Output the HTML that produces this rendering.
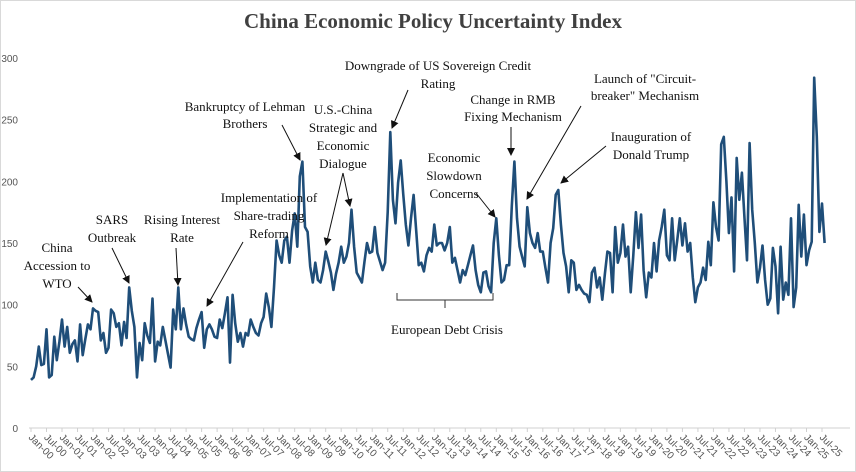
<!DOCTYPE html>
<html><head><meta charset="utf-8"><style>
html,body{margin:0;padding:0;background:#fff}
svg{display:block}
.ann{font-family:"Liberation Serif",serif;font-size:13px;fill:#111}
.tick{font-family:"Liberation Sans",sans-serif;font-size:10px;fill:#555}
</style></head><body>
<svg id="chart" width="856" height="472" viewBox="0 0 856 472" xmlns="http://www.w3.org/2000/svg">
<defs><marker id="ah" markerWidth="8" markerHeight="8" refX="7" refY="4" orient="auto" markerUnits="userSpaceOnUse"><path d="M0,0 L8,4 L0,8 z" fill="#111"/></marker></defs>
<rect x="0.5" y="0.5" width="855" height="471" fill="#fff" stroke="#d9d9d9"/>
<text x="433" y="28" text-anchor="middle" style="font-family:'Liberation Serif',serif;font-weight:bold;font-size:21px;fill:#404040">China Economic Policy Uncertainty Index</text>
<g id="yaxis"></g>
<g id="xaxis"></g>
<path id="line" fill="none" stroke="#1f4e79" stroke-width="2.6" stroke-linejoin="round"/>
<g>
<g><text class="ann" x="57" text-anchor="middle"><tspan x="57" y="252">China</tspan><tspan x="57" y="270">Accession to</tspan><tspan x="57" y="288">WTO</tspan></text><line x1="78" y1="287" x2="92" y2="302" stroke="#111" marker-end="url(#ah)"/></g>
<g><text class="ann" text-anchor="middle"><tspan x="112" y="224">SARS</tspan><tspan x="112" y="242">Outbreak</tspan></text><line x1="112" y1="248" x2="129" y2="283" stroke="#111" marker-end="url(#ah)"/></g>
<g><text class="ann" text-anchor="middle"><tspan x="182" y="224">Rising Interest</tspan><tspan x="182" y="242">Rate</tspan></text><line x1="176" y1="248" x2="178" y2="285" stroke="#111" marker-end="url(#ah)"/></g>
<g><text class="ann" text-anchor="middle"><tspan x="269" y="202">Implementation of</tspan><tspan x="269" y="220">Share-trading</tspan><tspan x="269" y="238">Reform</tspan></text><line x1="243" y1="242" x2="207" y2="306" stroke="#111" marker-end="url(#ah)"/></g>
<g><text class="ann" text-anchor="middle"><tspan x="245" y="111">Bankruptcy of Lehman</tspan><tspan x="245" y="128">Brothers</tspan></text><line x1="282" y1="125" x2="300" y2="160" stroke="#111" marker-end="url(#ah)"/></g>
<g><text class="ann" text-anchor="middle"><tspan x="343" y="114">U.S.-China</tspan><tspan x="343" y="132">Strategic and</tspan><tspan x="343" y="150">Economic</tspan><tspan x="343" y="168">Dialogue</tspan></text><line x1="343" y1="173" x2="326" y2="245" stroke="#111" marker-end="url(#ah)"/><line x1="343" y1="173" x2="350" y2="206" stroke="#111" marker-end="url(#ah)"/></g>
<g><text class="ann" text-anchor="middle"><tspan x="438" y="70">Downgrade of US Sovereign Credit</tspan><tspan x="438" y="88">Rating</tspan></text><line x1="408" y1="90" x2="392" y2="128" stroke="#111" marker-end="url(#ah)"/></g>
<g><text class="ann" text-anchor="middle"><tspan x="513" y="104">Change in RMB</tspan><tspan x="513" y="121">Fixing Mechanism</tspan></text><line x1="511" y1="127" x2="511" y2="155" stroke="#111" marker-end="url(#ah)"/></g>
<g><text class="ann" text-anchor="middle"><tspan x="454" y="162">Economic</tspan><tspan x="454" y="180">Slowdown</tspan><tspan x="454" y="198">Concerns</tspan></text><line x1="476" y1="193" x2="495" y2="217" stroke="#111" marker-end="url(#ah)"/></g>
<g><text class="ann" text-anchor="middle"><tspan x="645" y="83">Launch of "Circuit-</tspan><tspan x="645" y="100">breaker" Mechanism</tspan></text><line x1="581" y1="106" x2="527" y2="199" stroke="#111" marker-end="url(#ah)"/></g>
<g><text class="ann" text-anchor="middle"><tspan x="651" y="141">Inauguration of</tspan><tspan x="651" y="159">Donald Trump</tspan></text><line x1="606" y1="146" x2="561" y2="183" stroke="#111" marker-end="url(#ah)"/></g>
<g><path d="M397,293 L397,300 L493,300 L493,293 M445,300 L445,308" fill="none" stroke="#333"/><text class="ann" x="447" y="334" text-anchor="middle">European Debt Crisis</text></g>
</g>
</svg>
<script>
const yTicks = [0, 50, 100, 150, 200, 250, 300];
const xTickLabels = [];
const years = [];
for (let y = 0; y <= 25; y++) years.push(String(y).padStart(2, '0'));
years.forEach(y => { xTickLabels.push('Jan-' + y); xTickLabels.push('Jul-' + y); });
const epu2000_2005 = [39,41,50,66,51,52,80,41,43,74,55,70,88,66,82,61,68,71,54,84,59,72,84,80,97,95,94,71,77,61,65,96,93,82,85,67,86,73,114,95,82,41,69,55,85,75,69,105,54,70,67,82,71,60,49,96,80,114,80,97,84,74,72,71,81,88,94,65,80,84,80,74];
const epu2006_2011 = [73,88,81,93,106,53,108,85,70,77,66,77,75,88,82,77,75,85,90,109,98,82,114,152,140,134,152,155,134,160,174,147,204,216,163,159,131,118,134,120,118,128,143,135,126,112,125,134,147,134,139,150,177,147,126,122,118,135,150,142,143,163,142,135,128,134,175,240,185,166,199];
const epu2011_2017 = [217,190,165,148,170,189,160,132,134,127,140,146,143,165,148,150,150,144,150,163,134,138,128,118,128,124,132,140,148,128,116,110,126,127,115,110,150,170,140,118,120,132,132,180,216,170,147,139,131,179,158,150,146,158,143,143,130,118,150,162,189,193,165,142,131,110,136,134,112];
const epu2017_2025 = [116,112,109,108,102,126,130,114,122,104,125,143,142,110,163,134,142,165,139,147,110,140,175,146,173,128,106,126,122,150,127,152,163,177,140,136,170,136,152,170,148,166,143,150,122,102,114,118,130,120,151,132,183,163,152,230,236,200,158,187,127,219,185,207,170,136,231,177,150,118,130,148,120,100,105,146,131,93,147,104,118,108,170,98,114,181,139,173,132,144,151,284,236,159,182,150];
const values = epu2000_2005.concat(epu2006_2011, epu2011_2017, epu2017_2025);

const X0 = 31, X1 = 822, Y0 = 428, Y300 = 58;
const nMonths = 306;
function xScale(i){ return X0 + (X1 - X0) * i / nMonths; }
function yScale(v){ return Y0 - (Y0 - Y300) * v / 300; }
const NS = 'http://www.w3.org/2000/svg';
const yg = document.getElementById('yaxis');
yTicks.forEach(t => {
  const tx = document.createElementNS(NS, 'text');
  tx.setAttribute('x', 18); tx.setAttribute('y', yScale(t) + 4);
  tx.setAttribute('text-anchor', 'end'); tx.setAttribute('class', 'tick');
  tx.textContent = t;
  
  
  yg.appendChild(tx);
});
const xg = document.getElementById('xaxis');
const axis = document.createElementNS(NS, 'line');
axis.setAttribute('x1', 29); axis.setAttribute('x2', 850);
axis.setAttribute('y1', Y0); axis.setAttribute('y2', Y0);
axis.setAttribute('stroke', '#d0d0d0');


xg.appendChild(axis);
xTickLabels.forEach((lab, k) => {
  const m = k * 6;
  if (m > nMonths) return;
  const x = xScale(m);
  const tk = document.createElementNS(NS, 'line');
  tk.setAttribute('x1', x); tk.setAttribute('x2', x);
  tk.setAttribute('y1', Y0); tk.setAttribute('y2', Y0 + 4);
  tk.setAttribute('stroke', '#d0d0d0');
  
  
  xg.appendChild(tk);
  const tx = document.createElementNS(NS, 'text');
  tx.setAttribute('x', x - 3); tx.setAttribute('y', Y0 + 10);
  tx.setAttribute('class', 'tick');
  tx.setAttribute('transform', 'rotate(45 ' + (x - 3) + ' ' + (Y0 + 10) + ')');
  tx.textContent = lab;
  
  
  xg.appendChild(tx);
});
let d = '';
values.forEach((v, i) => { d += (i ? 'L' : 'M') + xScale(i).toFixed(1) + ',' + yScale(v).toFixed(1); });
document.getElementById('line').setAttribute('d', d);
</script>
</body></html>
